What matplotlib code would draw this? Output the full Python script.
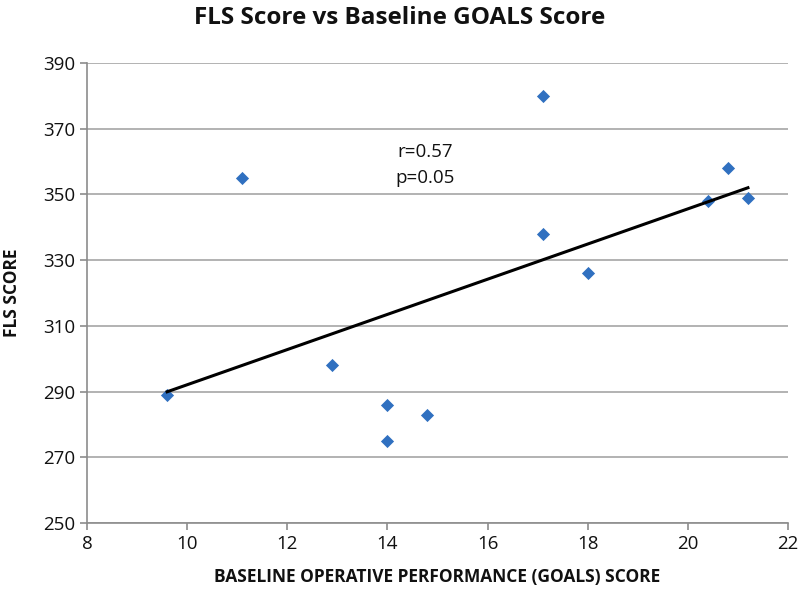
import numpy as np
import matplotlib
matplotlib.use("Agg")
import matplotlib.pyplot as plt

plt.rcParams['font.family'] = ['Open Sans', 'DejaVu Sans']

goals = [9.6, 11.1, 12.9, 14.0, 14.0, 14.8, 17.1, 17.1, 18.0, 20.4, 20.8, 21.2]
fls = [289, 355, 298, 286, 275, 283, 380, 338, 326, 348, 358, 349]
x_ticks = [8, 10, 12, 14, 16, 18, 20, 22]
y_ticks = [250, 270, 290, 310, 330, 350, 370, 390]

fig = plt.figure(figsize=(8, 6.03), dpi=100)
ax = fig.add_axes([87/800, 1 - 523/603, (788-87)/800, (523-63)/603])

ax.set_xlim(8, 22)
ax.set_ylim(250, 390)
ax.set_xticks(x_ticks)
ax.set_yticks(y_ticks)
ax.grid(axis='y', color='#a6a6a6', linewidth=1.2)
ax.set_axisbelow(True)
for s in ['top', 'right']:
    ax.spines[s].set_visible(False)
for s in ['left', 'bottom']:
    ax.spines[s].set_color('#8c8c8c')
    ax.spines[s].set_linewidth(1.2)
ax.tick_params(colors='#8c8c8c', labelcolor='#111111', labelsize=13.5, length=5, width=1.2)

ax.scatter(goals, fls, marker='D', s=45, color='#3070c0', zorder=3, linewidths=0)

xa = np.array(goals)
slope, intercept = np.polyfit(xa, np.array(fls), 1)
xl = np.array([xa.min(), xa.max()])
ax.plot(xl, slope * xl + intercept, color='black', linewidth=2.2, zorder=4)

ax.text(14.75, 359, 'r=0.57\np=0.05', ha='center', va='center', fontsize=13.5, linespacing=1.55, color='#111111')

fig.text(0.5, 1 - 18/603, 'FLS Score vs Baseline GOALS Score', ha='center', va='center',
         fontsize=17.5, fontweight='bold', color='#111111')
fig.text(12/800, 1 - 293/603, 'FLS SCORE', rotation=90, ha='center', va='center',
         fontsize=12.5, fontweight='bold', color='#111111')
fig.text(437/800, 1 - 577/603, 'BASELINE OPERATIVE PERFORMANCE (GOALS) SCORE', ha='center', va='center',
         fontsize=12.5, fontweight='bold', color='#111111')

fig.savefig('out.png', dpi=100)
